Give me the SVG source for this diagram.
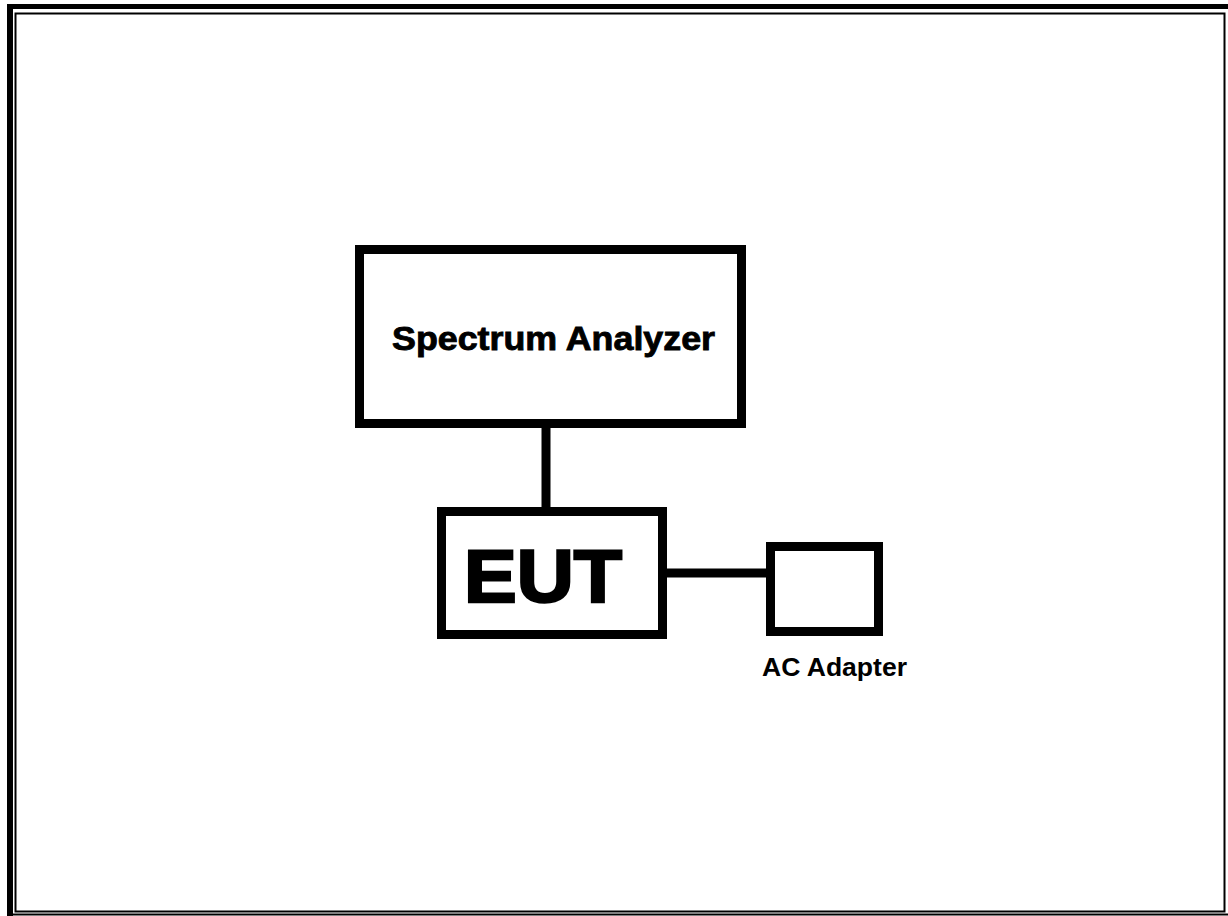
<svg xmlns="http://www.w3.org/2000/svg" width="1228" height="916" viewBox="0 0 1228 916">
  <style>
    .box { fill: #ffffff; stroke: #000000; stroke-width: 9; }
    .wire { stroke: #000000; stroke-width: 9; fill: none; }
    .lbl { font-family: "Liberation Sans", Arial, sans-serif; font-weight: bold; fill: #000000; }
  </style>
  <rect width="1228" height="916" fill="#ffffff"/>

  <!-- page frame: thick outer rule on top/left, thin inner rule -->
  <g id="frame">
    <rect x="7" y="4" width="1221" height="5" fill="#000"/>
    <rect x="7" y="4" width="6" height="912" fill="#000"/>
    <rect x="7" y="913.5" width="1221" height="2" fill="#000"/>
    <rect x="15.5" y="13.5" width="1209" height="898" fill="none" stroke="#000" stroke-width="2"/>
  </g>

  <!-- connectors -->
  <g id="connectors">
    <line class="wire" x1="546" y1="428" x2="546" y2="508"/>
    <line class="wire" x1="666" y1="573" x2="767" y2="573"/>
  </g>

  <g id="spectrum-analyzer">
    <rect class="box" x="359.5" y="249.5" width="382" height="174"/>
    <text class="lbl" x="392" y="350" font-size="34" stroke="#000" stroke-width="0.9" textLength="323" lengthAdjust="spacingAndGlyphs">Spectrum Analyzer</text>
  </g>

  <g id="eut">
    <rect class="box" x="441.5" y="511.5" width="221" height="123"/>
    <text class="lbl" x="464" y="602" font-size="74" stroke="#000" stroke-width="2.5" textLength="158" lengthAdjust="spacingAndGlyphs">EUT</text>
  </g>

  <g id="ac-adapter">
    <rect class="box" x="770.5" y="546.5" width="108" height="85"/>
    <text class="lbl" x="762" y="676" font-size="25" textLength="145" lengthAdjust="spacingAndGlyphs">AC Adapter</text>
  </g>
</svg>
